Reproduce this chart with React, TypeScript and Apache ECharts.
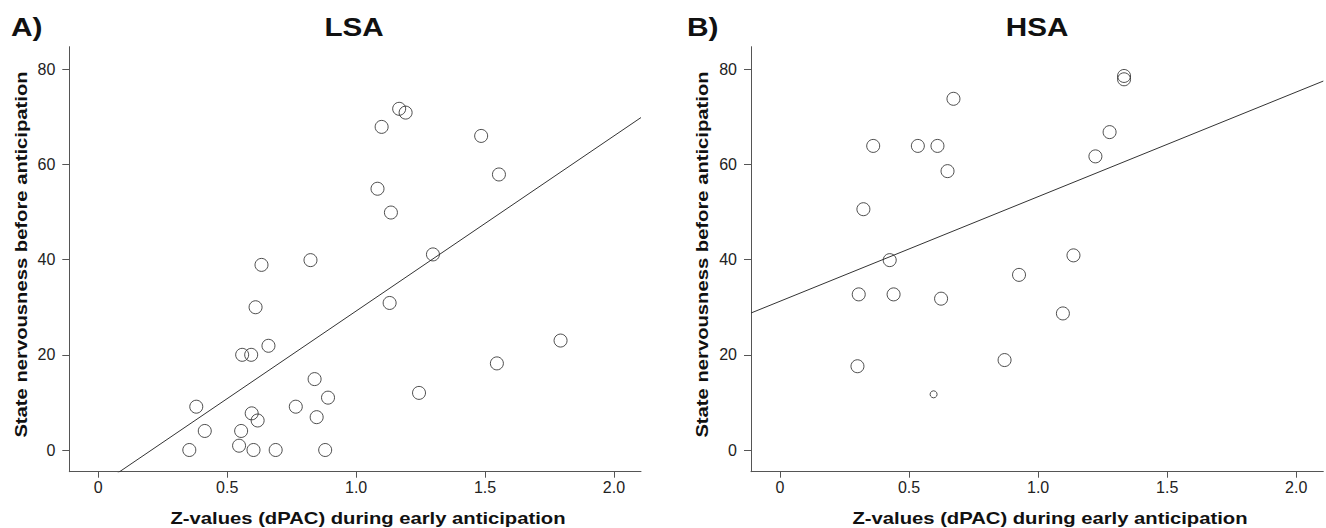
import React, { useEffect, useRef } from "react";
import * as echarts from "echarts";

// Panel A (LSA): [Z-value, state nervousness]
const LSA_POINTS: [number, number][] = [
  [1.167, 71.7], [1.192, 70.9], [1.099, 67.9], [1.485, 66.0], [1.554, 57.9],
  [1.083, 54.9], [1.135, 49.9], [1.298, 41.1], [0.823, 39.9], [0.633, 38.9],
  [1.130, 30.9], [0.610, 30.0], [1.793, 23.0], [0.660, 21.9], [0.558, 20.0],
  [0.593, 20.0], [1.546, 18.2], [0.839, 14.9], [1.244, 12.0], [0.891, 11.0],
  [0.380, 9.1], [0.766, 9.1], [0.595, 7.7], [0.847, 6.9], [0.618, 6.2],
  [0.413, 4.0], [0.554, 4.0], [0.546, 0.9], [0.353, 0.0], [0.602, 0.0],
  [0.688, 0.0], [0.880, 0.0],
];

// Panel B (HSA)
const HSA_POINTS: [number, number][] = [
  [1.333, 78.6], [1.333, 77.9], [0.672, 73.8], [1.277, 66.8], [0.361, 63.9],
  [0.534, 63.9], [0.610, 63.9], [1.222, 61.7], [0.649, 58.6], [0.323, 50.6],
  [0.425, 39.9], [1.137, 40.9], [0.926, 36.8], [0.305, 32.7], [0.440, 32.7],
  [0.624, 31.8], [1.096, 28.7], [0.870, 18.9], [0.300, 17.6],
];
const HSA_SMALL_POINTS: [number, number][] = [[0.595, 11.7]];

// Fit lines
const LSA_FIT = { intercept: -7.6, slope: 36.8 };
const HSA_FIT = { intercept: 31.26, slope: 21.98 };

// Axes
const X_MIN = -0.1125;
const X_MAX = 2.105;
const Y_MIN = -4.56;
const Y_MAX = 84.75;
const X_TICKS = [0, 0.5, 1.0, 1.5, 2.0];
const Y_TICKS = [0, 20, 40, 60, 80];

const PANEL_LABELS = ["A)", "B)"];
const PANEL_TITLES = ["LSA", "HSA"];
const X_TITLE = "Z-values (dPAC) during early anticipation";
const Y_TITLE = "State nervousness before anticipation";

const fitLine = (f: { intercept: number; slope: number }) => [
  [X_MIN, f.intercept + f.slope * X_MIN],
  [X_MAX, f.intercept + f.slope * X_MAX],
];

export default function App() {
  const ref = useRef<HTMLDivElement>(null);
  useEffect(() => {
    document.body.style.margin = "0";
    document.body.style.overflow = "hidden";
    if (!ref.current) return;
    const chart = echarts.init(ref.current, null, { renderer: "svg" });
    const axisColor = "#555";
    const textColor = "#222";
    const boldFont = "'Liberation Sans', Arial, sans-serif";

    const xAxis = (gridIndex: number) => ({
      type: "value",
      gridIndex,
      min: X_MIN,
      max: X_MAX,
      splitLine: { show: false },
      axisLine: { show: true, onZero: false, lineStyle: { color: axisColor, width: 1 } },
      axisTick: { show: true, length: 6, customValues: X_TICKS, lineStyle: { color: axisColor } },
      axisLabel: {
        customValues: X_TICKS,
        margin: 8,
        color: textColor,
        fontSize: 16,
        fontFamily: boldFont,
        formatter: (v: number) => (v === 0 ? "0" : v.toFixed(1)),
      },
    });
    const yAxis = (gridIndex: number) => ({
      type: "value",
      gridIndex,
      min: Y_MIN,
      max: Y_MAX,
      splitLine: { show: false },
      axisLine: { show: true, onZero: false, lineStyle: { color: axisColor, width: 1 } },
      axisTick: { show: true, length: 7, customValues: Y_TICKS, lineStyle: { color: axisColor } },
      axisLabel: {
        customValues: Y_TICKS,
        margin: 14,
        color: textColor,
        fontSize: 16,
        fontFamily: boldFont,
        formatter: (v: number) => String(Math.round(v)),
      },
    });

    const scatter = (idx: number, data: [number, number][], size: number) => ({
      type: "scatter",
      xAxisIndex: idx,
      yAxisIndex: idx,
      data,
      symbol: "circle",
      symbolSize: size,
      itemStyle: { color: "rgba(255,255,255,0)", borderColor: "#222", borderWidth: 1 },
      z: 3,
    });
    const line = (idx: number, f: { intercept: number; slope: number }) => ({
      type: "line",
      xAxisIndex: idx,
      yAxisIndex: idx,
      data: fitLine(f),
      symbol: "none",
      clip: true,
      lineStyle: { color: "#333", width: 1 },
      z: 2,
    });

    const gridLefts = [69.3, 751];
    const titleText = (text: string, x: number, y: number, size: number, align: string, sx: number) => ({
      type: "text",
      x,
      y,
      scaleX: sx,
      style: {
        text,
        fill: "#111",
        font: `bold ${size}px ${boldFont}`,
        textAlign: align,
        textVerticalAlign: "middle",
      },
    });

    const graphics: any[] = [];
    const labelX = [11, 687];
    const titleCx = [354, 1037];
    const xTitleCx = [368, 1050];
    const yTitleCx = [21, 702];
    for (let i = 0; i < 2; i++) {
      graphics.push(titleText(PANEL_LABELS[i], labelX[i], 27.5, 26, "left", 1.15));
      graphics.push(titleText(PANEL_TITLES[i], titleCx[i], 27.5, 26, "center", 1.14));
      graphics.push(titleText(X_TITLE, xTitleCx[i], 518, 17, "center", 1.19));
      graphics.push({
        type: "text",
        x: yTitleCx[i],
        y: 254.5,
        rotation: Math.PI / 2,
        scaleX: 1.19,
        style: {
          text: Y_TITLE,
          fill: "#111",
          font: `bold 17px ${boldFont}`,
          textAlign: "center",
          textVerticalAlign: "middle",
        },
      });
    }

    chart.setOption({
      animation: false,
      backgroundColor: "#fff",
      grid: [
        { left: gridLefts[0], top: 46.7, width: 571.7, height: 425, outerBoundsMode: "none" },
        { left: gridLefts[1], top: 46.7, width: 572.3, height: 425, outerBoundsMode: "none" },
      ],
      xAxis: [xAxis(0), xAxis(1)],
      yAxis: [yAxis(0), yAxis(1)],
      series: [
        line(0, LSA_FIT),
        scatter(0, LSA_POINTS, 13),
        line(1, HSA_FIT),
        scatter(1, HSA_POINTS, 13),
        scatter(1, HSA_SMALL_POINTS, 7),
      ],
      graphic: graphics,
    });
    return () => chart.dispose();
  }, []);
  return <div ref={ref} style={{ width: 1326, height: 528 }} />;
}
